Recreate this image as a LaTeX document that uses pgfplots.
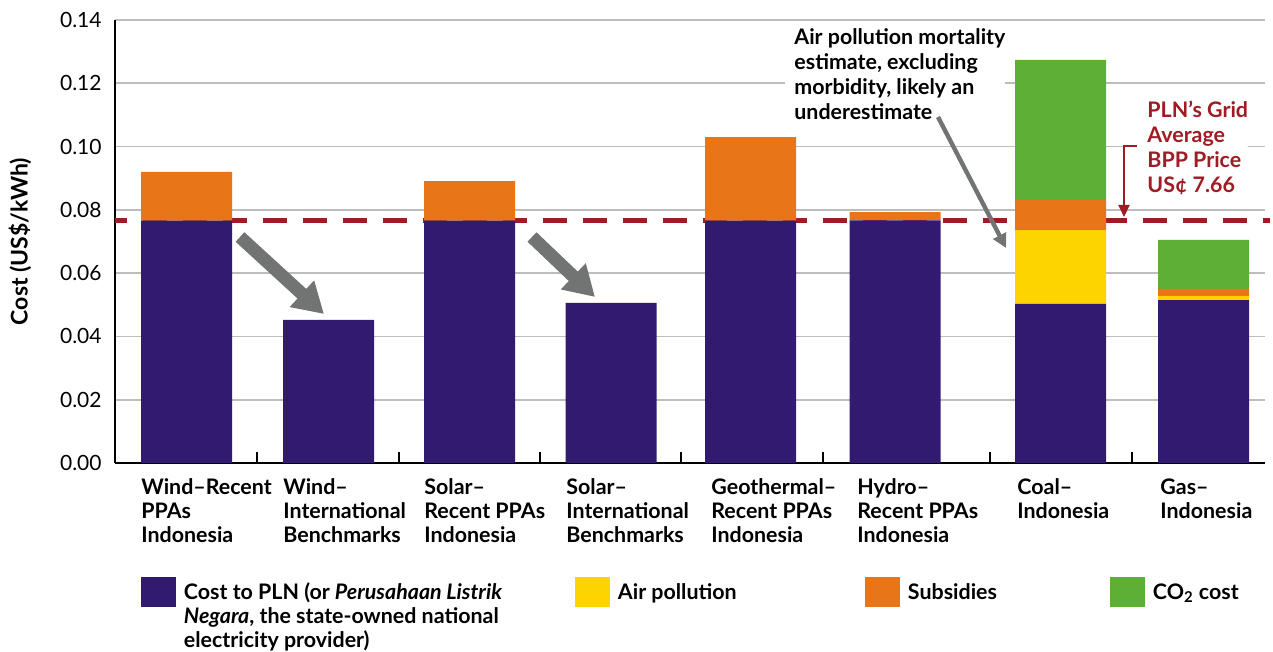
\documentclass[border=0pt]{standalone}
\usepackage{fontspec}
\setmainfont{Lato}
\usepackage{pgfplots}
\usepackage{pgfplotstable}
\pgfplotsset{compat=1.18}
\usetikzlibrary{arrows.meta}
\definecolor{cpurple}{HTML}{331A71}
\definecolor{cyellow}{HTML}{FED400}
\definecolor{corange}{HTML}{E87517}
\definecolor{cgreen}{HTML}{5DAF36}
\definecolor{cred}{HTML}{A01C25}
\definecolor{cgray}{HTML}{717472}
\definecolor{cgrid}{HTML}{BDBDBD}

\pgfplotstableread{
x      cost   air    sub    co2
186.5  0.0766 0      0.0154 0
328.5  0.0452 0      0      0
469.5  0.0766 0      0.0125 0
611    0.0506 0      0      0
750.5  0.0766 0      0.0264 0
895    0.0767 0      0.0026 0
1060.5 0.0503 0.0233 0.0095 0.0443
1203.5 0.0515 0.0013 0.0022 0.0155
}\costdata

\pgfplotstableread{
x    y
115  0.0766
1270 0.0766
}\bppline

\pgfplotsset{sqlegend/.style={legend image code/.code={%
  \fill[##1] (0pt,-3.75pt) rectangle (17.5pt,11.25pt);
  \path (21.5pt,0pt);}}}

\newcommand\lblfont{\fontsize{10.7}{12}\selectfont\bfseries}
\newcommand\annfont{\fontsize{10.7}{12.5}\selectfont\bfseries}
\newcommand\fl[1]{\hbox to \hsize{#1\hss}}

\begin{document}
\begin{tikzpicture}
\useasboundingbox (-57.5pt,-94.5pt) rectangle (579pt,231.5pt);
\begin{axis}[
  at={(0pt,0pt)}, anchor=south west,
  scale only axis, width=575pt, height=221.5pt,
  xmin=115, xmax=1265, ymin=0, ymax=0.14,
  ybar stacked, bar width=91,
  clip=false,
  axis x line*=bottom, axis y line*=left,
  axis line style={black, line width=1pt, -},
  xtick={257,399,540,681,823,990,1132},
  xticklabels={},
  xtick style={black, line width=0.8pt},
  major tick length=5.5pt,
  tick align=inside,
  ytick={0,0.02,0.04,0.06,0.08,0.10,0.12,0.14},
  ytick style={draw=none},
  ymajorgrids,
  grid style={cgrid, line width=0.8pt},
  yticklabel style={/pgf/number format/fixed, /pgf/number format/fixed zerofill,
    /pgf/number format/precision=2, /pgf/number format/assume math mode=true,
    font=\fontsize{10.5}{12}\selectfont, anchor=east, inner sep=0pt, xshift=-6.5pt},
  legend style={at={(rel axis cs:0.0226,0)}, anchor=north west, yshift=-57pt,
    draw=none, fill=none, inner sep=0pt, outer sep=0pt,
    /tikz/column sep=0pt, /tikz/row sep=0pt,
    nodes={inner sep=0pt, outer sep=0pt, anchor=base west},
    font=\fontsize{10.7}{12}\selectfont\bfseries},
  legend columns=4,
  legend cell align=left,
]
\addplot[fill=cpurple, draw=none, sqlegend] table[x=x, y=cost] {\costdata};
\addlegendentry{\parbox[t]{195.5pt}{\fl{Cost to PLN (or \textit{Perusahaan Listrik}}\fl{\textit{Negara}, the state-owned national}\fl{electricity provider)}}}
\addplot[fill=cyellow, draw=none, sqlegend] table[x=x, y=air] {\costdata};
\addlegendentry{\parbox[t]{123.5pt}{\fl{Air pollution}}}
\addplot[fill=corange, draw=none, sqlegend] table[x=x, y=sub] {\costdata};
\addlegendentry{\parbox[t]{101pt}{\fl{Subsidies}}}
\addplot[fill=cgreen, draw=none, sqlegend] table[x=x, y=co2] {\costdata};
\addlegendentry{\parbox[t]{50pt}{\fl{CO\textsubscript{2} cost}}}
\addplot[sharp plot, no marks, draw=cred, fill=none, line width=2.7pt,
  dash pattern=on 12pt off 8pt, dash phase=6pt, stack plots=false, forget plot]
  table[x=x, y=y] {\bppline};
\end{axis}

\node[rotate=90, font=\fontsize{11.5}{13}\selectfont\bfseries] at (-47.5pt,110.75pt) {Cost (US\$/kWh)};

\begin{scope}[x=0.5pt, y=-0.5pt, shift={(-57.5pt,231.5pt)}]
  % category labels
  \foreach \xx/\txt in {
    141/{\hbox{Wind–Recent}\hbox{PPAs}\hbox{Indonesia}},
    283/{\hbox{Wind–}\hbox{International}\hbox{Benchmarks}},
    424/{\hbox{Solar–}\hbox{Recent PPAs}\hbox{Indonesia}},
    566/{\hbox{Solar–}\hbox{International}\hbox{Benchmarks}},
    711/{\hbox{Geothermal–}\hbox{Recent PPAs}\hbox{Indonesia}},
    857/{\hbox{Hydro–}\hbox{Recent PPAs}\hbox{Indonesia}},
    1017/{\hbox{Coal–}\hbox{Indonesia}},
    1160/{\hbox{Gas–}\hbox{Indonesia}}}{
    \node[anchor=base west, inner sep=0pt, font=\lblfont] at (\xx,495) {\parbox[t]{70pt}{\txt}};
  }
  % gray arrows
  \draw[cgray, line width=6.5pt, -{Triangle[length=15pt,width=17pt]}] (240,237) -- (324,314);
  \draw[cgray, line width=6.5pt, -{Triangle[length=15pt,width=17pt]}] (532,237) -- (595,297);
  % air pollution annotation
  \node[anchor=base west, inner sep=0pt, fill=white, font=\annfont] at (785,45)
    {\parbox[t]{100pt}{\hbox{\hspace{4.5pt}Air pollution mortality}\hbox{\hspace{4.5pt}estimate, excluding}\hbox{\hspace{4.5pt}morbidity, likely an}\hbox{\hspace{4.5pt}underestimate}}};
  \draw[cgray, line width=2.2pt, -{Triangle[length=7pt,width=7pt]}] (938,117) -- (1006,248);
  % PLN annotation
  \node[anchor=base west, inner sep=0pt, fill=white, text=cred, font=\annfont] at (1137,118)
    {\parbox[t]{55.5pt}{\hbox{\hspace{5pt}PLN’s Grid}\hbox{\hspace{5pt}Average}\hbox{\hspace{5pt}BPP Price}\hbox{\hspace{5pt}US¢ 7.66}}};
  \draw[cred, line width=1pt, -{Triangle[length=6pt,width=5.5pt]}] (1137,146) -- (1124,146) -- (1124,217);
\end{scope}
\end{tikzpicture}
\end{document}
